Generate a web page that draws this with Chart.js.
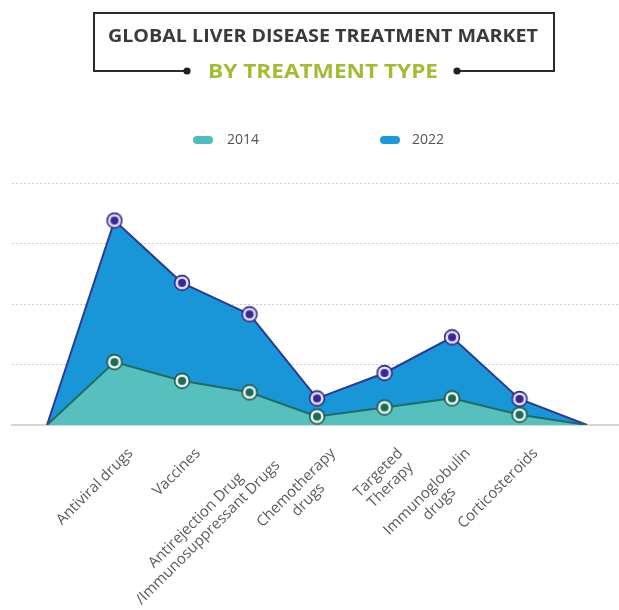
<!DOCTYPE html>
<html>
<head>
<meta charset="utf-8">
<script src="https://cdn.jsdelivr.net/npm/chart.js@4.4.1/dist/chart.umd.min.js"></script>
<style>
  html, body { margin: 0; padding: 0; background: #ffffff; }
  #wrap { width: 619px; height: 610px; position: relative; }
</style>
</head>
<body>
<div id="wrap"><canvas id="chart" width="619" height="610"></canvas></div>
<script>
// Header texts
const titleText = 'GLOBAL LIVER DISEASE TREATMENT MARKET';
const subtitleText = 'BY TREATMENT TYPE';

// Categories (blank slots at both ends let the areas start and end on the baseline)
const categories = [
  '',
  ['Antiviral drugs'],
  ['Vaccines'],
  ['Antirejection Drug', '/Immunosuppressant Drugs'],
  ['Chemotherapy', 'drugs'],
  ['Targeted', 'Therapy'],
  ['Immunoglobulin', 'drugs'],
  ['Corticosteroids'],
  ''
];

// Series
const seriesNames = ['2014', '2022'];
const values2014 = [0, 10.4, 7.3, 5.4, 1.4, 2.9, 4.4, 1.7, 0];
const values2022 = [0, 33.8, 23.5, 18.3, 4.4, 8.6, 14.5, 4.3, 0];

// Value axis gridline positions
const yTicks = [0, 10, 20, 30, 40];

// Ringed marker images
function makeMarker(outer, ring, inner) {
  const c = document.createElement('canvas');
  c.width = 18; c.height = 18;
  const g = c.getContext('2d');
  const circle = (r, col) => { g.beginPath(); g.arc(9, 9, r, 0, Math.PI * 2); g.fillStyle = col; g.fill(); };
  circle(8.2, outer);
  circle(6.6, ring);
  circle(4, inner);
  return c;
}
const marker2014 = makeMarker('#1d5a4a', '#e8f6ef', '#1e6a55');
const marker2022 = makeMarker('#2e2a82', '#e4dcf4', '#37299c');

const lastIndex = categories.length - 1;
const toPoints = arr => arr.map((v, i) => ({ x: i, y: v }));
const pointRadius = ctx => (ctx.dataIndex === 0 || ctx.dataIndex === lastIndex) ? 0 : 8;

// Header, legend and rotated category labels
const decorPlugin = {
  id: 'decor',
  afterDraw(chart) {
    const ctx = chart.ctx;
    const area = chart.chartArea;

    // Frame around the title
    ctx.save();
    ctx.strokeStyle = '#2b2b2b';
    ctx.lineWidth = 2;
    ctx.beginPath();
    ctx.moveTo(187, 71); ctx.lineTo(94, 71); ctx.lineTo(94, 13);
    ctx.lineTo(554, 13); ctx.lineTo(554, 71); ctx.lineTo(457, 71);
    ctx.stroke();
    ctx.fillStyle = '#1f1f1f';
    [187, 457].forEach(x => { ctx.beginPath(); ctx.arc(x, 71, 3.6, 0, Math.PI * 2); ctx.fill(); });
    ctx.restore();

    const fitText = (text, cx, baseY, width, font, color) => {
      ctx.save();
      ctx.font = font;
      const w = ctx.measureText(text).width;
      ctx.translate(cx, baseY);
      ctx.scale(width / w, 1);
      ctx.fillStyle = color;
      ctx.textAlign = 'center';
      ctx.textBaseline = 'alphabetic';
      ctx.fillText(text, 0, 0);
      ctx.restore();
    };
    fitText(titleText, 323, 41.5, 430, '700 17px "Open Sans"', '#3a3a3a');
    fitText(subtitleText, 323, 77.5, 230, '700 19px "Open Sans"', '#a2bc33');

    // Legend
    const legendSpots = [{ cx: 203, tx: 227 }, { cx: 390, tx: 412 }];
    chart.data.datasets.forEach((ds, i) => {
      const s = legendSpots[i];
      ctx.save();
      ctx.fillStyle = ds.legendColor;
      ctx.beginPath();
      ctx.roundRect(s.cx - 10, 136, 20, 8, 4);
      ctx.fill();
      ctx.font = '14px "Open Sans"';
      ctx.fillStyle = '#555555';
      ctx.textAlign = 'left';
      ctx.textBaseline = 'middle';
      ctx.fillText(ds.label, s.tx, 140);
      ctx.restore();
    });

    // Rotated category labels, lines centred on each other
    const xScale = chart.scales.x;
    ctx.save();
    ctx.font = '15px "Open Sans"';
    ctx.fillStyle = '#5a5a5a';
    ctx.textAlign = 'center';
    ctx.textBaseline = 'middle';
    categories.forEach((lines, i) => {
      if (!lines || !lines.length) return;
      const px = xScale.getPixelForValue(i);
      const blockW = Math.max(...lines.map(l => ctx.measureText(l).width));
      ctx.save();
      ctx.translate(px + 16, area.bottom + 26);
      ctx.rotate(-Math.PI / 4);
      lines.forEach((l, k) => ctx.fillText(l, -blockW / 2, k * 17));
      ctx.restore();
    });
    ctx.restore();
  }
};

new Chart(document.getElementById('chart'), {
  type: 'line',
  data: {
    datasets: [
      {
        label: seriesNames[0],
        data: toPoints(values2014),
        backgroundColor: '#57bfbd',
        borderColor: '#226b62',
        legendColor: '#4dbdbd',
        borderWidth: 2,
        fill: 'origin',
        tension: 0,
        pointStyle: marker2014,
        pointRadius: pointRadius
      },
      {
        label: seriesNames[1],
        data: toPoints(values2022),
        backgroundColor: '#1896d8',
        borderColor: '#2b3a94',
        legendColor: '#1a9ad9',
        borderWidth: 2,
        fill: 'origin',
        tension: 0,
        pointStyle: marker2022,
        pointRadius: pointRadius
      }
    ]
  },
  options: {
    responsive: false,
    animation: false,
    devicePixelRatio: 1,
    events: [],
    layout: { padding: { left: 12, right: 0, top: 183, bottom: 185 } },
    plugins: {
      legend: { display: false },
      title: { display: false },
      tooltip: { enabled: false }
    },
    scales: {
      x: {
        type: 'linear',
        min: -0.5185,
        max: 8.474,
        grid: { display: false, drawTicks: false },
        ticks: { display: false },
        border: { display: true, color: '#d6d6d6', width: 2 }
      },
      y: {
        min: yTicks[0],
        max: yTicks[yTicks.length - 1],
        afterBuildTicks: axis => { axis.ticks = yTicks.map(v => ({ value: v })); },
        grid: {
          drawTicks: false,
          color: ctx => (ctx.tick && ctx.tick.value === 0) ? 'rgba(0,0,0,0)' : '#cfcfcf',
          lineWidth: 1
        },
        ticks: { display: false },
        border: { display: false, dash: [2, 2] }
      }
    }
  },
  plugins: [decorPlugin]
});
</script>
</body>
</html>
